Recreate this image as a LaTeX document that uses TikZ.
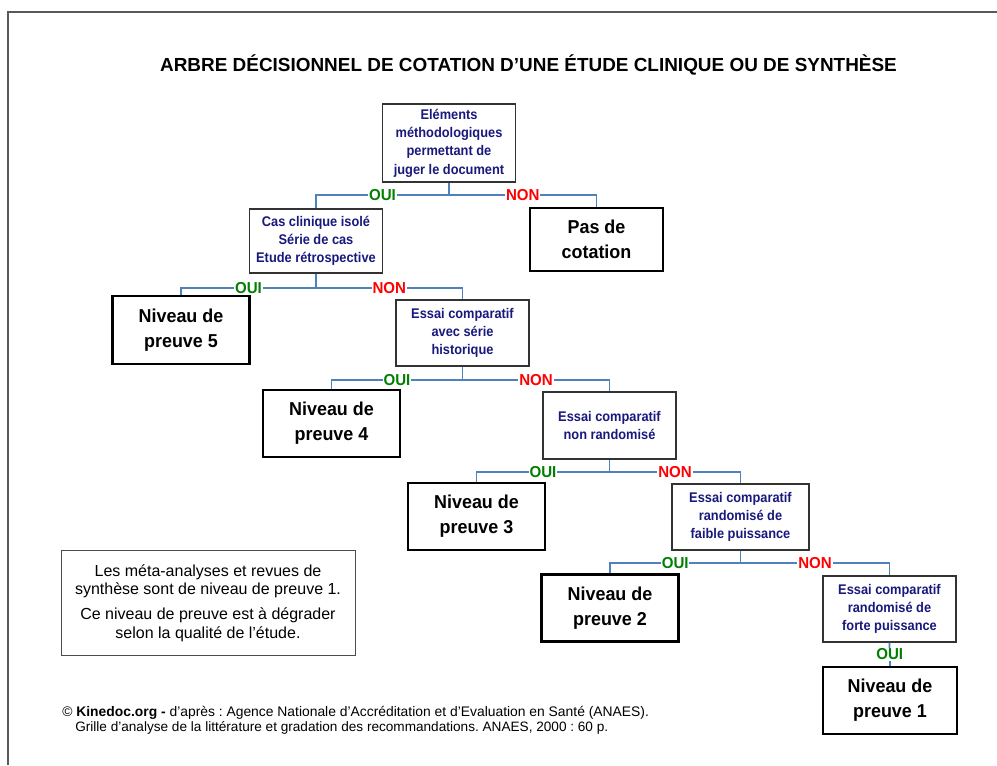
\documentclass[tikz,border=0pt]{standalone}
\usepackage{fontspec}
\setmainfont{Liberation Sans}
\newfontfamily\decfont[FakeStretch=0.915]{Liberation Sans}
\newfontfamily\resfont[FakeStretch=0.96]{Liberation Sans}
\newfontfamily\labfont[FakeStretch=0.95]{Liberation Sans}
\definecolor{navytext}{RGB}{25,25,125}
\definecolor{linkblue}{RGB}{79,129,189}
\definecolor{ouigreen}{RGB}{0,128,0}
\definecolor{nonred}{RGB}{255,0,0}
\frenchspacing
\begin{document}
\begin{tikzpicture}[x=0.75pt,y=-0.75pt,
  decbox/.style={draw=black!80, line width=1.1pt, fill=white, align=center, inner sep=0pt,
    text=navytext, font=\decfont\fontsize{10.5}{13.7}\selectfont\bfseries, minimum width=100pt},
  resbox/.style={draw=black, line width=1.8pt, fill=white, align=center, inner sep=0pt,
    font=\resfont\fontsize{14}{18.75}\selectfont\bfseries, minimum width=103pt, minimum height=50pt},
  conn/.style={draw=linkblue, line width=1.3pt},
  ouilab/.style={fill=white, text=ouigreen, font=\labfont\fontsize{11.9}{12}\selectfont\bfseries, inner sep=0.6pt},
  nonlab/.style={fill=white, text=nonred, font=\labfont\fontsize{11.9}{12}\selectfont\bfseries, inner sep=0.6pt}
]
\useasboundingbox (0,0) rectangle (997,765);
\draw[line width=1.3pt, draw=black!65] (8,765) -- (8,12) -- (997,12);

\node[anchor=base, font=\fontsize{14.2}{16}\selectfont\bfseries] (title) at (528.5,71)
  {ARBRE DÉCISIONNEL DE COTATION D’UNE ÉTUDE CLINIQUE OU DE SYNTHÈSE};

% decision boxes
\node[decbox, minimum height=58.5pt] (q1) at (449,143) {Eléments\\méthodologiques\\permettant de\\juger le document};
\node[decbox, minimum height=48pt] (q2) at (316,241) {Cas clinique isolé\\Série de cas\\Etude rétrospective};
\node[decbox, minimum height=49.5pt] (q3) at (462.5,333) {Essai comparatif\\avec série\\historique};
\node[decbox, minimum height=50.25pt] (q4) at (609.5,425.5) {Essai comparatif\\non randomisé};
\node[decbox, minimum height=49.5pt, minimum width=102.75pt] (q5) at (740.5,517) {Essai comparatif\\randomisé de\\faible puissance};
\node[decbox, minimum height=49.5pt] (q6) at (889.5,609) {Essai comparatif\\randomisé de\\forte puissance};

% result boxes
\node[resbox, minimum width=99.75pt, minimum height=47.25pt] (pas) at (596.5,239.5) {Pas de\\cotation};
\node[resbox, minimum height=51pt] (n5) at (181,330) {Niveau de\\preuve 5};
\node[resbox] (n4) at (331.5,423.5) {Niveau de\\preuve 4};
\node[resbox] (n3) at (476.5,516.5) {Niveau de\\preuve 3};
\node[resbox] (n2) at (610,608) {Niveau de\\preuve 2};
\node[resbox, minimum width=100.5pt] (n1) at (890,700.5) {Niveau de\\preuve 1};

% junctions
\path (q1.south) ++(0,12) coordinate (j1);
\path (q2.south) ++(0,14) coordinate (j2);
\path (q3.south) ++(0,13) coordinate (j3);
\path (q4.south) ++(0,12) coordinate (j4);
\path (q5.south) ++(0,12) coordinate (j5);

% connectors
\draw[conn] (q1.south) -- (j1);
\draw[conn] (j1) -| node[ouilab, pos=0.25] {OUI} (q2.north);
\draw[conn] (j1) -| node[nonlab, pos=0.25] {NON} (pas.north);

\draw[conn] (q2.south) -- (j2);
\draw[conn] (j2) -| node[ouilab, pos=0.25] {OUI} (n5.north);
\draw[conn] (j2) -| node[nonlab, pos=0.25] {NON} (q3.north);

\draw[conn] (q3.south) -- (j3);
\draw[conn] (j3) -| node[ouilab, pos=0.25] {OUI} (n4.north);
\draw[conn] (j3) -| node[nonlab, pos=0.25] {NON} (q4.north);

\draw[conn] (q4.south) -- (j4);
\draw[conn] (j4) -| node[ouilab, pos=0.25] {OUI} (n3.north);
\draw[conn] (j4) -| node[nonlab, pos=0.25] {NON} (q5.north);

\draw[conn] (q5.south) -- (j5);
\draw[conn] (j5) -| node[ouilab, pos=0.25] {OUI} (n2.north);
\draw[conn] (j5) -| node[nonlab, pos=0.25] {NON} (q6.north);

\draw[conn] (q6.south) -- node[ouilab] {OUI} (n1.north);

% note box
\node[draw=black!70, line width=0.6pt, minimum width=220.5pt, minimum height=78.75pt, inner sep=0pt,
  align=center, font=\fontsize{12}{14}\selectfont] (note) at (208,603)
  {Les méta-analyses et revues de\\synthèse sont de niveau de preuve 1.\\[4.5pt]
   Ce niveau de preuve est à dégrader\\selon la qualité de l’étude.};

% footer
\node[anchor=base west, inner sep=0pt, font=\fontsize{10.4}{12}\selectfont] (foot1) at (62,716)
  {© \textbf{Kinedoc.org -} d’après : Agence Nationale d’Accréditation et d’Evaluation en Santé (ANAES).};
\node[anchor=base west, inner sep=0pt, font=\fontsize{10.2}{12}\selectfont] (foot2) at (75,731)
  {Grille d’analyse de la littérature et gradation des recommandations. ANAES, 2000 : 60 p.};
\end{tikzpicture}
\end{document}
